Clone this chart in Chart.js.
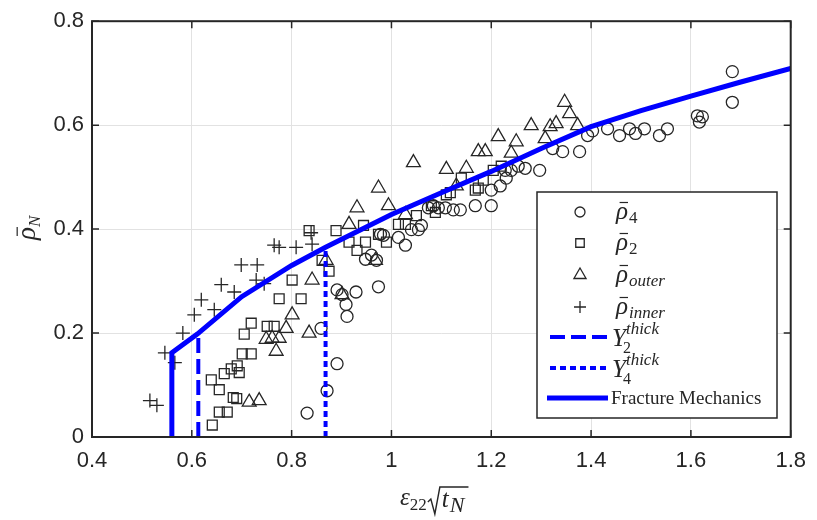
<!DOCTYPE html>
<html>
<head>
<meta charset="utf-8">
<script src="https://cdn.jsdelivr.net/npm/chart.js@4"></script>
<style>
  html, body { margin: 0; padding: 0; background: #fff; }
</style>
</head>
<body>
<canvas id="myChart" width="817" height="520"></canvas>
<script>
// data: [x, y] pairs
const rho4 = [
  [0.831,0.046],[0.871,0.089],[0.891,0.141],[0.859,0.209],[0.911,0.232],[0.909,0.255],
  [0.891,0.283],[0.901,0.274],[0.929,0.279],[0.974,0.289],[0.948,0.342],[0.970,0.340],
  [0.960,0.350],[0.978,0.390],[0.984,0.388],[1.014,0.384],[1.028,0.369],[1.040,0.399],
  [1.054,0.399],[1.060,0.407],[1.074,0.441],[1.084,0.445],[1.094,0.441],[1.108,0.441],
  [1.124,0.437],[1.138,0.437],[1.168,0.445],[1.200,0.445],[1.200,0.475],[1.218,0.483],
  [1.228,0.513],[1.230,0.498],[1.240,0.513],[1.254,0.521],[1.268,0.517],[1.297,0.513],
  [1.323,0.555],[1.343,0.549],[1.377,0.549],[1.393,0.580],[1.403,0.589],[1.433,0.593],
  [1.457,0.580],[1.477,0.593],[1.489,0.584],[1.507,0.593],[1.537,0.580],[1.553,0.593],
  [1.613,0.618],[1.623,0.616],[1.617,0.606],[1.683,0.703],[1.683,0.644]
];
const rho2 = [
  [0.641,0.023],[0.655,0.048],[0.671,0.048],[0.683,0.076],[0.690,0.074],[0.655,0.091],
  [0.639,0.110],[0.665,0.122],[0.679,0.131],[0.691,0.137],[0.695,0.124],[0.701,0.160],
  [0.719,0.160],[0.705,0.198],[0.719,0.219],[0.751,0.213],[0.765,0.213],[0.775,0.266],
  [0.819,0.266],[0.801,0.302],[0.835,0.397],[0.861,0.340],[0.875,0.319],[0.889,0.397],
  [0.915,0.375],[0.931,0.359],[0.948,0.375],[0.944,0.407],[0.974,0.390],[0.990,0.375],
  [1.014,0.409],[1.028,0.409],[1.050,0.426],[1.080,0.445],[1.088,0.432],[1.110,0.466],
  [1.118,0.470],[1.140,0.498],[1.168,0.475],[1.184,0.494],[1.174,0.479],[1.204,0.513],
  [1.220,0.521]
];
const rhoOuter = [
  [0.715,0.067],[0.735,0.070],[0.749,0.188],[0.761,0.190],[0.769,0.165],[0.775,0.190],
  [0.789,0.209],[0.801,0.235],[0.835,0.200],[0.841,0.302],[0.869,0.340],[0.901,0.274],
  [0.915,0.409],[0.931,0.441],[0.968,0.340],[0.974,0.479],[0.994,0.445],[1.028,0.428],
  [1.044,0.528],[1.110,0.515],[1.130,0.483],[1.150,0.517],[1.174,0.549],[1.188,0.549],
  [1.214,0.578],[1.240,0.546],[1.250,0.568],[1.280,0.599],[1.308,0.574],[1.318,0.597],
  [1.330,0.603],[1.347,0.644],[1.357,0.622],[1.373,0.599]
];
const rhoInner = [
  [0.516,0.070],[0.530,0.061],[0.546,0.162],[0.566,0.143],[0.582,0.200],[0.605,0.235],
  [0.619,0.264],[0.645,0.245],[0.659,0.293],[0.685,0.279],[0.699,0.331],[0.731,0.331],
  [0.729,0.302],[0.745,0.295],[0.765,0.369],[0.775,0.365],[0.809,0.365],[0.841,0.371],
  [0.839,0.393]
];
const y2Thick = [[0.613,0],[0.613,0.198]];
const y4Thick = [[0.868,0],[0.868,0.365]];
const fracture = [
  [0.56,0],[0.56,0.162],[0.611,0.198],[0.7,0.27],[0.8,0.33],[0.868,0.365],[1.0,0.428],
  [1.1,0.47],[1.2,0.511],[1.3,0.555],[1.4,0.597],[1.5,0.628],[1.6,0.656],[1.7,0.683],[1.8,0.709]
];
const xTicks = [0.4, 0.6, 0.8, 1.0, 1.2, 1.4, 1.6, 1.8];
const yTicks = [0, 0.2, 0.4, 0.6, 0.8];

const toPts = arr => arr.map(p => ({ x: p[0], y: p[1] }));
const BLUE = '#0000ff';
const INK = '#262626';
const SERIF = '"Liberation Serif", "Times New Roman", serif';

function markerSet(label, arr, style, r) {
  return {
    label: label, data: toPts(arr), pointStyle: style, pointRadius: r,
    pointBorderColor: INK, pointBackgroundColor: 'rgba(0,0,0,0)',
    pointBorderWidth: 1.3, showLine: false, order: 2
  };
}
function lineSet(label, arr, dash, w) {
  return {
    label: label, data: toPts(arr), showLine: true, borderColor: BLUE,
    borderWidth: w, borderDash: dash, pointRadius: 0, tension: 0, order: 1,
    borderCapStyle: 'butt'
  };
}

// italic rho with a bar on top, returns its width
function rhoBar(ctx, x, y, size) {
  ctx.font = 'italic ' + size + 'px ' + SERIF;
  ctx.fillText('ρ', x, y);
  const w = ctx.measureText('ρ').width;
  ctx.save();
  ctx.lineWidth = 1.2;
  ctx.strokeStyle = INK;
  ctx.beginPath();
  ctx.moveTo(x + w * 0.3, y - size * 0.66);
  ctx.lineTo(x + w * 1.0, y - size * 0.66);
  ctx.stroke();
  ctx.restore();
  return w;
}

// frame, inward ticks, axis titles and legend (MATLAB look)
const decor = {
  id: 'decor',
  afterDraw(chart) {
    const ctx = chart.ctx, a = chart.chartArea;
    const xs = chart.scales.x, ys = chart.scales.y;
    ctx.save();
    ctx.strokeStyle = INK;
    ctx.lineWidth = 1.5;
    ctx.beginPath();
    xTicks.forEach(v => {
      const px = xs.getPixelForValue(v);
      ctx.moveTo(px, a.bottom); ctx.lineTo(px, a.bottom - 7);
      ctx.moveTo(px, a.top); ctx.lineTo(px, a.top + 7);
    });
    yTicks.forEach(v => {
      const py = ys.getPixelForValue(v);
      ctx.moveTo(a.left, py); ctx.lineTo(a.left + 7, py);
      ctx.moveTo(a.right, py); ctx.lineTo(a.right - 7, py);
    });
    ctx.stroke();
    ctx.lineWidth = 2;
    ctx.strokeRect(a.left, a.top, a.right - a.left, a.bottom - a.top);

    ctx.fillStyle = INK;
    ctx.textBaseline = 'alphabetic';
    ctx.textAlign = 'left';

    // x title: eps_22 sqrt(t_N)
    let x = 400;
    ctx.font = 'italic 25px ' + SERIF;
    ctx.fillText('ε', x, 505); x += ctx.measureText('ε').width;
    ctx.font = '17px ' + SERIF;
    ctx.fillText('22', x, 510); x += ctx.measureText('22').width + 1;
    ctx.font = 'italic 25px ' + SERIF;
    const tx = x + 14;
    const tw = ctx.measureText('t').width;
    ctx.font = 'italic 22px ' + SERIF;
    const nw = ctx.measureText('N').width;
    const endX = tx + tw + nw + 5;
    ctx.lineWidth = 1.4;
    ctx.beginPath();
    ctx.moveTo(x, 502); ctx.lineTo(x + 3, 499); ctx.lineTo(x + 7, 514);
    ctx.lineTo(x + 12, 487); ctx.lineTo(endX, 487);
    ctx.stroke();
    ctx.font = 'italic 25px ' + SERIF;
    ctx.fillText('t', tx, 507);
    ctx.font = 'italic 22px ' + SERIF;
    ctx.fillText('N', tx + tw + 1, 512);

    // y title: rho bar _N
    ctx.save();
    ctx.translate(35, 240);
    ctx.rotate(-Math.PI / 2);
    const w = rhoBar(ctx, 0, 0, 27);
    ctx.font = 'italic 17px ' + SERIF;
    ctx.fillText('N', w, 5);
    ctx.restore();

    // legend
    const L = { x: 537, y: 192, w: 240, h: 226 };
    ctx.fillStyle = '#fff';
    ctx.fillRect(L.x, L.y, L.w, L.h);
    ctx.strokeStyle = INK; ctx.lineWidth = 1.5;
    ctx.strokeRect(L.x, L.y, L.w, L.h);

    const sets = chart.data.datasets;
    const rhoRows = [[0, '4', 212], [1, '2', 243], [2, 'outer', 275], [3, 'inner', 307]];
    rhoRows.forEach(([i, sub, yy]) => {
      const d = sets[i];
      ctx.strokeStyle = INK; ctx.fillStyle = 'rgba(0,0,0,0)'; ctx.lineWidth = 1.3;
      Chart.helpers.drawPoint(ctx, { pointStyle: d.pointStyle, radius: d.pointRadius - 1, rotation: 0, borderWidth: 1.3 }, 580, yy);
      ctx.fillStyle = INK;
      const ww = rhoBar(ctx, 616, yy + 7, 25);
      ctx.font = (sub.length > 1 ? 'italic ' : '') + '17px ' + SERIF;
      ctx.fillText(sub, 617 + ww, yy + 11);
    });
    const lineRows = [[4, 337, 550, 609, '2'], [5, 368, 550, 609, '4'], [6, 398, 547, 608, null]];
    lineRows.forEach(([i, yy, x0, x1, sub]) => {
      const d = sets[i];
      ctx.strokeStyle = BLUE; ctx.lineWidth = d.borderWidth;
      ctx.setLineDash(d.borderDash || []);
      ctx.beginPath(); ctx.moveTo(x0, yy); ctx.lineTo(x1, yy); ctx.stroke();
      ctx.setLineDash([]);
      ctx.fillStyle = INK;
      if (sub) {
        ctx.font = 'italic 25px ' + SERIF;
        ctx.fillText('Y', 612, yy + 9);
        const yw = ctx.measureText('Y').width;
        ctx.font = '16px ' + SERIF;
        ctx.fillText(sub, 612 + yw - 3, yy + 16);
        ctx.font = 'italic 17px ' + SERIF;
        ctx.fillText('thick', 612 + yw, yy - 3);
      } else {
        ctx.font = '19px ' + SERIF;
        ctx.fillText('Fracture Mechanics', 611, yy + 6);
      }
    });
    ctx.restore();
  }
};

const tickFont = { family: '"Liberation Sans", Arial, sans-serif', size: 22 };
const fmt = v => String(Math.round(v * 10) / 10);

new Chart(document.getElementById('myChart').getContext('2d'), {
  type: 'scatter',
  data: {
    datasets: [
      markerSet('rho4', rho4, 'circle', 6),
      markerSet('rho2', rho2, 'rect', 7),
      markerSet('rhoOuter', rhoOuter, 'triangle', 8),
      markerSet('rhoInner', rhoInner, 'cross', 7),
      lineSet('Y2 thick', y2Thick, [15, 6], 4),
      lineSet('Y4 thick', y4Thick, [6, 4], 4),
      lineSet('Fracture Mechanics', fracture, [], 5)
    ]
  },
  options: {
    responsive: false,
    animation: false,
    devicePixelRatio: 1,
    layout: { padding: { top: 16, right: 22, left: 0, bottom: 0 } },
    plugins: { legend: { display: false }, tooltip: { enabled: false } },
    scales: {
      x: {
        type: 'linear', min: 0.4, max: 1.8,
        afterFit: s => { s.height = 83; },
        afterBuildTicks: s => { s.ticks = xTicks.map(v => ({ value: v })); },
        ticks: { font: tickFont, color: INK, padding: 11, maxRotation: 0, callback: fmt },
        grid: { color: '#e2e2e2', lineWidth: 1, drawTicks: false },
        border: { display: false }
      },
      y: {
        type: 'linear', min: 0, max: 0.8,
        afterFit: s => { s.width = 92; },
        afterBuildTicks: s => { s.ticks = yTicks.map(v => ({ value: v })); },
        ticks: { font: tickFont, color: INK, padding: 8, callback: fmt },
        grid: { color: '#e2e2e2', lineWidth: 1, drawTicks: false },
        border: { display: false }
      }
    }
  },
  plugins: [decor]
});
</script>
</body>
</html>
